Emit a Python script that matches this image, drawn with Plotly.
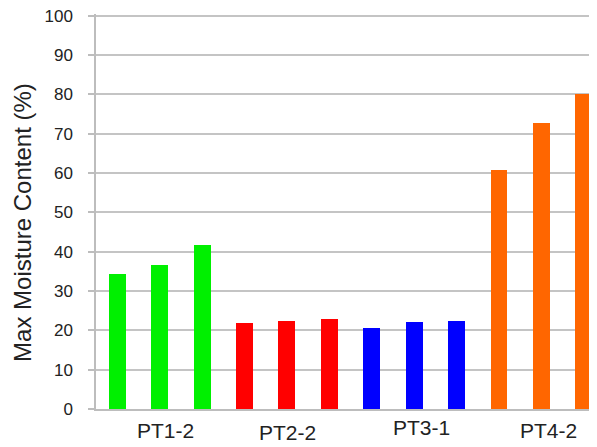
import plotly.graph_objects as go

# Data
groups = ["PT1-2", "PT2-2", "PT3-1", "PT4-2"]
pt1_2 = [34.4, 36.5, 41.8]
pt2_2 = [21.9, 22.4, 22.8]
pt3_1 = [20.5, 22.2, 22.4]
pt4_2 = [60.8, 72.8, 80.1]
colors = ["#00F000", "#FF0000", "#0000FF", "#FF6600"]
y_title = "Max Moisture Content (%)"

series = [pt1_2, pt2_2, pt3_1, pt4_2]

fig = go.Figure()
pos = 0
centers = []
for name, vals, col in zip(groups, series, colors):
    xs = list(range(pos, pos + len(vals)))
    fig.add_trace(go.Bar(x=xs, y=vals, name=name, marker=dict(color=col, line=dict(width=0)),
                         width=0.4, showlegend=False))
    centers.append(sum(xs) / len(xs))
    pos += len(vals)

# group labels sit a little off-centre in the original
label_dx = [6, 1, 7, 7]
label_dy = [-21, -23, -18, -21]
for g, c, dx, dy in zip(groups, centers, label_dx, label_dy):
    fig.add_annotation(x=c, y=0, xref="x", yref="paper", text=g, showarrow=False,
                       xshift=dx, yshift=dy, yanchor="middle",
                       font=dict(size=21, color="#222222"))

# y title placed by hand, it sits a bit below the middle of the axis
fig.add_annotation(x=-0.1457, y=0.471, xref="paper", yref="paper", text=y_title,
                   showarrow=False, textangle=-90, xanchor="center", yanchor="middle",
                   font=dict(size=24, color="#222222"))

fig.update_xaxes(range=[-0.5, 11.31], showticklabels=False, showgrid=False, automargin=False,
                 showline=True, linecolor="#bdbdbd", linewidth=1.5, zeroline=False, ticks="")
fig.update_yaxes(range=[0, 100.4], tickvals=list(range(0, 101, 10)), showgrid=True,
                 gridcolor="#c4c4c4", gridwidth=1.5,
                 showline=True, linecolor="#bdbdbd", linewidth=1.5, zeroline=False, automargin=False,
                 ticks="outside", ticklen=6, tickcolor="#bdbdbd", tickwidth=1.5,
                 ticklabelstandoff=12, ticklabeloverflow="allow",
                 tickfont=dict(size=17, color="#222222"))

# the page body adds an 8px margin, so the figure is 8px smaller and shifted
fig.update_layout(width=589, height=439, plot_bgcolor="white", paper_bgcolor="white",
                  font=dict(family="Liberation Sans, Arial, sans-serif"),
                  margin=dict(l=88, r=0, t=6, b=38, autoexpand=False), bargap=0)

fig.write_html("out.html")
